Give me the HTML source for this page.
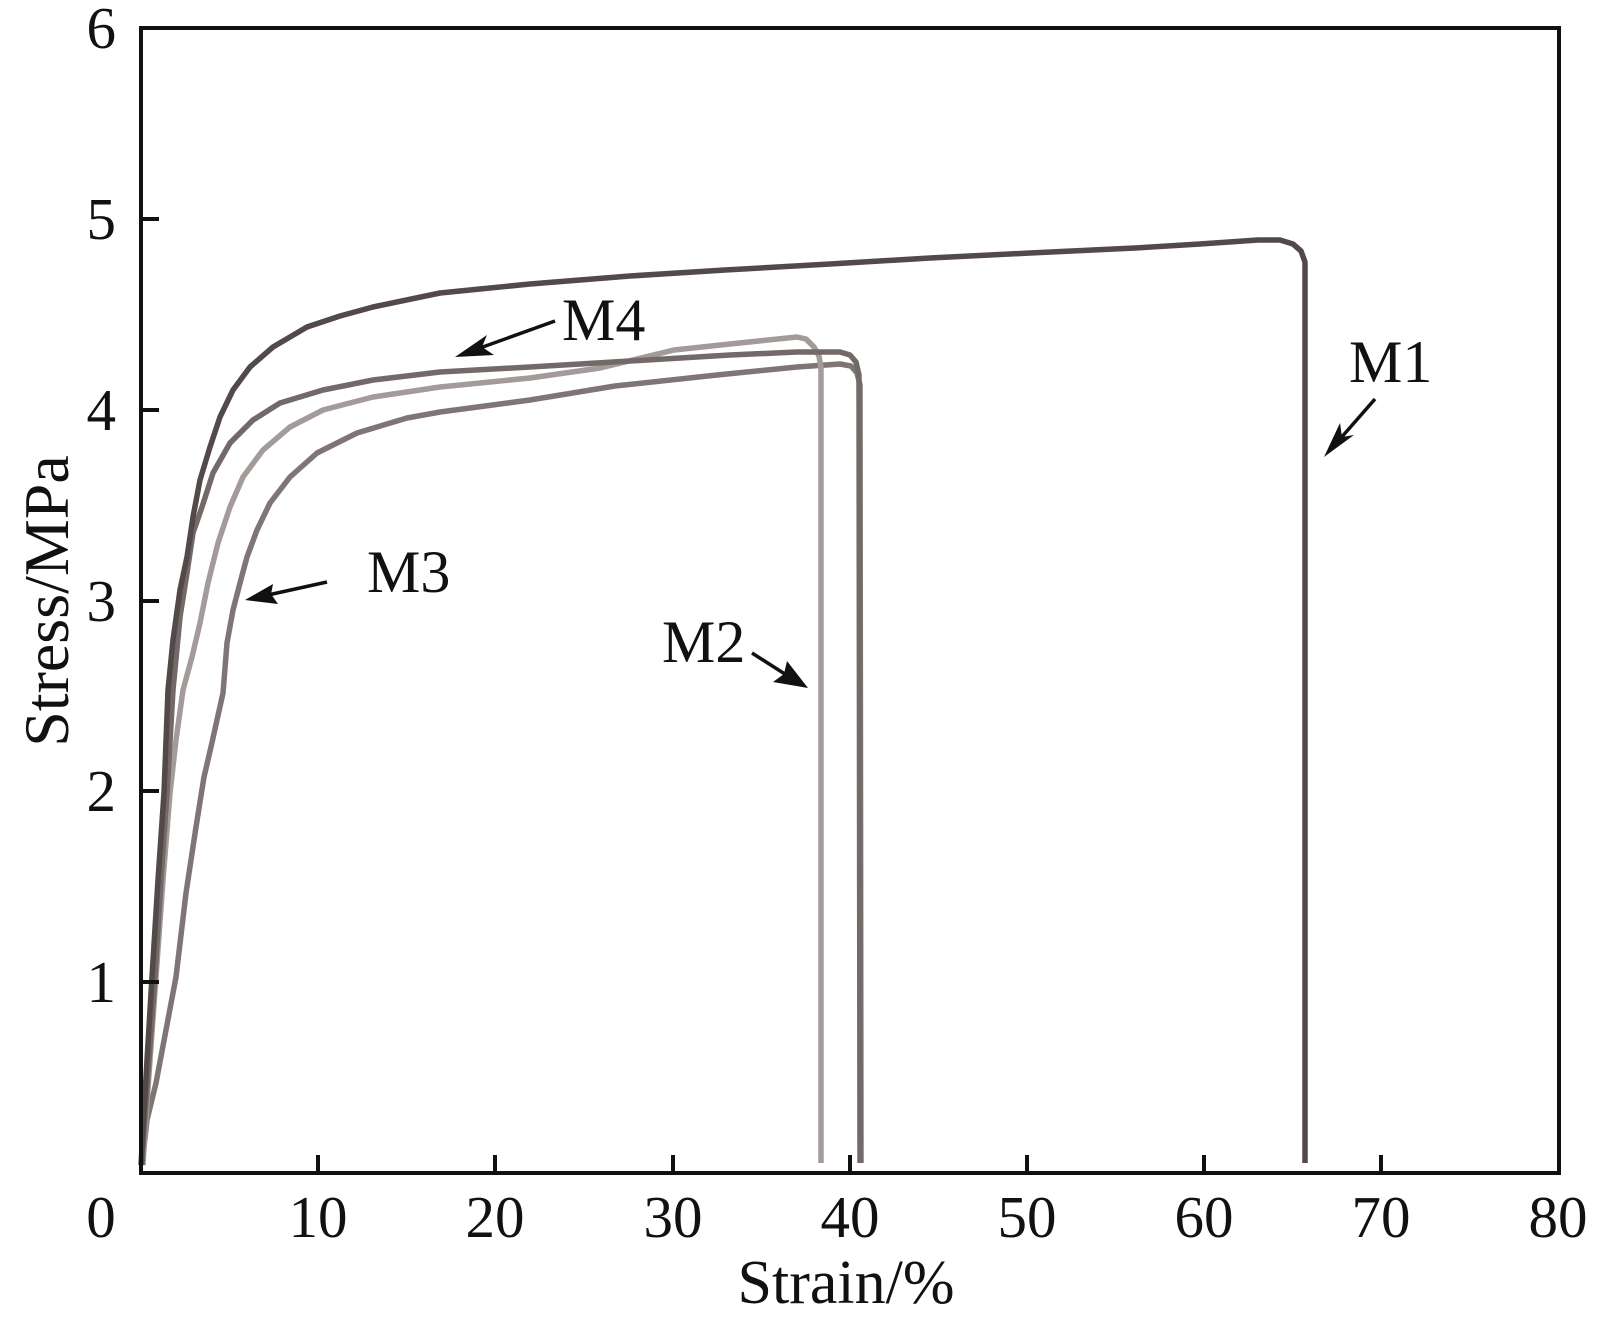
<!DOCTYPE html>
<html>
<head>
<meta charset="utf-8">
<style>
  html, body { margin: 0; padding: 0; background: #ffffff; }
  svg { display: block; }
  text { font-family: "Liberation Serif", "Times New Roman", serif; fill: #111; }
</style>
</head>
<body>
<svg width="1607" height="1328" viewBox="0 0 1607 1328" xmlns="http://www.w3.org/2000/svg">
  <rect x="0" y="0" width="1607" height="1328" fill="#ffffff"/>

  <!-- Curves -->
  <g fill="none" stroke-linejoin="round" stroke-linecap="butt" stroke-width="5.5">
    <!-- M3 -->
    <polyline stroke="#7f7574" points="142,1165 147,1120 156,1083 166,1030 176,977 181,935 186,893 196,827 204,777 211,747 217,720 223,693 227,643 233,610 240,583 247,557 257,530 270,503 290,477 317,453 357,433 407,418 440,412 530,400 615,386 717,375 797,367 840,364 851,366 857,373 860,385 861,1163"/>
    <!-- M2 -->
    <polyline stroke="#a39b99" points="143,1165 145,1130 150,1060 156,977 163,880 170,793 176,740 183,690 192,657 200,623 208,583 218,543 230,507 243,477 263,450 290,427 323,410 373,397 440,387 530,378 600,368 674,350 730,344 797,337 806,339 814,347 819,356 821,368 821,1163"/>
    <!-- M4 -->
    <polyline stroke="#726968" points="142,1165 144,1130 149,1060 155,977 161,880 167,793 173,690 180,617 187,573 193,533 202,507 213,473 230,443 253,420 280,403 323,390 373,380 440,372 530,367 630,361 730,355 797,352 840,352 850,355 856,362 859,375 860,1163"/>
    <!-- M1 -->
    <polyline stroke="#524948" points="141,1165 143,1130 147,1060 152,977 158,880 164,793 168,690 173,640 180,590 187,557 193,517 200,480 210,447 220,417 233,390 250,367 273,347 307,327 340,316 373,307 440,293 480,289 530,284 630,276 725,270 830,264 930,258 1030,253 1135,248 1200,244 1258,240 1280,240 1293,244 1301,251 1305,262 1305,1163"/>
  </g>

  <!-- Axes frame -->
  <rect x="141" y="28" width="1418" height="1145" fill="none" stroke="#111" stroke-width="4"/>

  <!-- Ticks (inward) -->
  <g stroke="#111" stroke-width="4">
    <line x1="141" y1="982" x2="159" y2="982"/>
    <line x1="141" y1="791" x2="159" y2="791"/>
    <line x1="141" y1="601" x2="159" y2="601"/>
    <line x1="141" y1="410" x2="159" y2="410"/>
    <line x1="141" y1="219" x2="159" y2="219"/>
    <line x1="318" y1="1173" x2="318" y2="1155"/>
    <line x1="495" y1="1173" x2="495" y2="1155"/>
    <line x1="673" y1="1173" x2="673" y2="1155"/>
    <line x1="850" y1="1173" x2="850" y2="1155"/>
    <line x1="1027" y1="1173" x2="1027" y2="1155"/>
    <line x1="1204" y1="1173" x2="1204" y2="1155"/>
    <line x1="1381" y1="1173" x2="1381" y2="1155"/>
  </g>

  <!-- Y tick labels -->
  <g font-size="59" text-anchor="end">
    <text x="116" y="48">6</text>
    <text x="116" y="239">5</text>
    <text x="116" y="430">4</text>
    <text x="116" y="621">3</text>
    <text x="116" y="811">2</text>
    <text x="116" y="1002">1</text>
  </g>

  <!-- X tick labels -->
  <g font-size="59" text-anchor="middle">
    <text x="101" y="1237">0</text>
    <text x="318" y="1237">10</text>
    <text x="495" y="1237">20</text>
    <text x="673" y="1237">30</text>
    <text x="850" y="1237">40</text>
    <text x="1027" y="1237">50</text>
    <text x="1204" y="1237">60</text>
    <text x="1381" y="1237">70</text>
    <text x="1558" y="1237">80</text>
  </g>

  <!-- Axis titles -->
  <text x="846" y="1303" font-size="62" text-anchor="middle">Strain/%</text>
  <text transform="translate(68,601) rotate(-90)" font-size="64" text-anchor="middle">Stress/MPa</text>

  <!-- Annotation labels -->
  <g font-size="60">
    <text x="1349" y="382">M1</text>
    <text x="662" y="662">M2</text>
    <text x="367" y="592">M3</text>
    <text x="562" y="340">M4</text>
  </g>

  <!-- Arrows -->
  <g stroke="#111" stroke-width="3.5" fill="#111">
    <line x1="555" y1="321" x2="480" y2="348"/>
    <polygon stroke="none" points="455,357 487,335 482,347 494,355"/>
    <line x1="1375" y1="399" x2="1340" y2="439"/>
    <polygon stroke="none" points="1324,457 1340,423 1342,437 1354,435"/>
    <line x1="327" y1="582" x2="268" y2="595"/>
    <polygon stroke="none" points="245,600 273,584 271,594 278,604"/>
    <line x1="752" y1="653" x2="788" y2="676"/>
    <polygon stroke="none" points="808,688 773,682 784,674 787,661"/>
  </g>
</svg>
</body>
</html>
